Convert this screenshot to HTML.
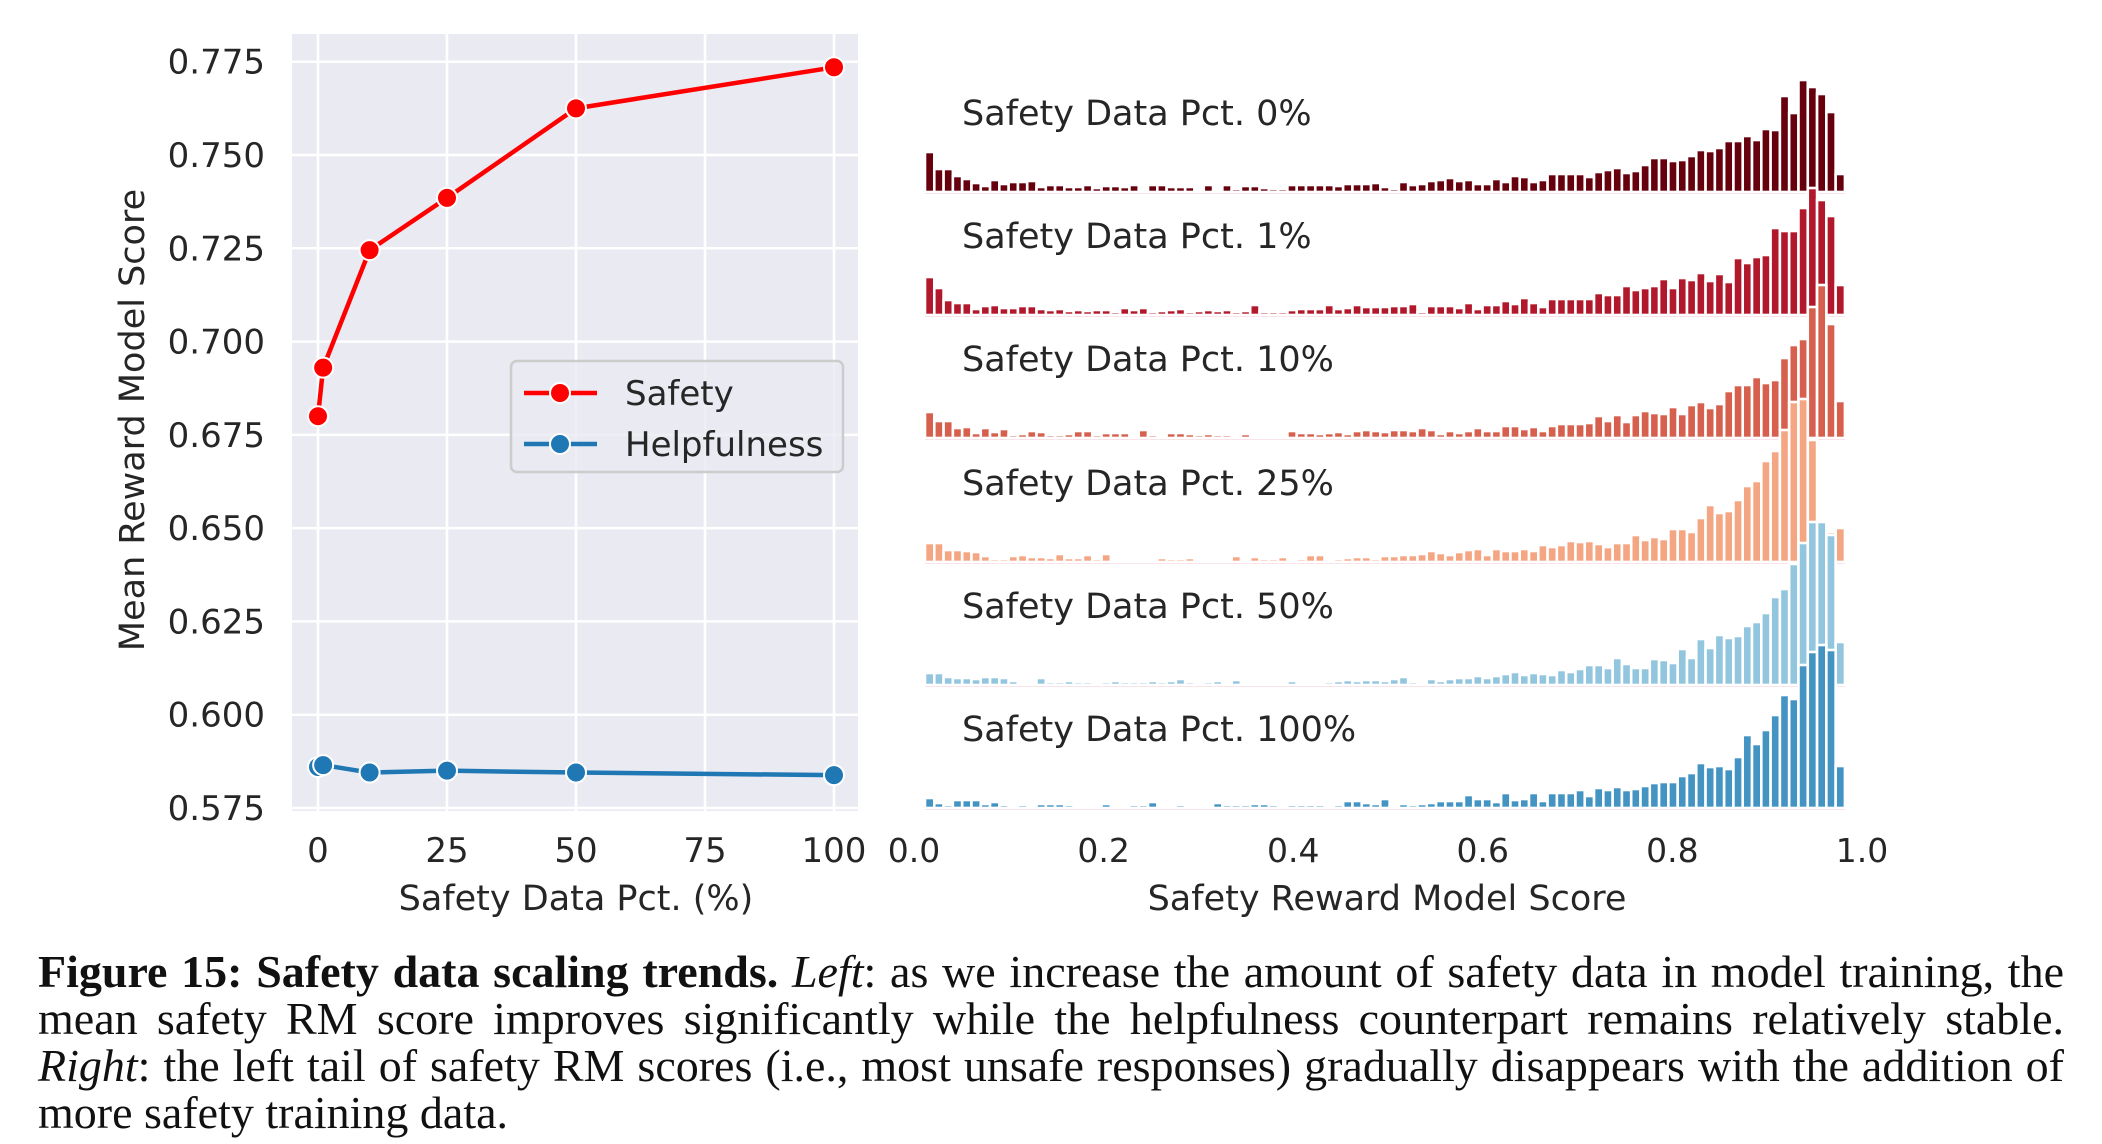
<!DOCTYPE html>
<html><head><meta charset="utf-8"><style>
html,body{margin:0;padding:0;background:#fff;}
#wrap{position:relative;width:2102px;height:1144px;overflow:hidden;}
svg text{font-family:"DejaVu Sans","Liberation Sans",sans-serif;fill:#262626;}
.cap{position:absolute;left:38px;width:2026px;font-family:"Liberation Serif",serif;font-size:46px;color:#111;white-space:nowrap;text-align:justify;text-align-last:justify;line-height:47px;}
.cap.last{text-align-last:left;}
</style></head><body>
<div id="wrap">
<svg id="chart" width="2102" height="940" viewBox="0 0 2102 940" style="position:absolute;left:0;top:0"></svg>
<div class="cap" style="top:948px"><b>Figure 15: Safety data scaling trends.</b> <i>Left</i>: as we increase the amount of safety data in model training, the</div>
<div class="cap" style="top:995px">mean safety RM score improves significantly while the helpfulness counterpart remains relatively stable.</div>
<div class="cap" style="top:1042px"><i>Right</i>: the left tail of safety RM scores (i.e., most unsafe responses) gradually disappears with the addition of</div>
<div class="cap last" style="top:1089px">more safety training data.</div>
</div>
<script>
// ---- Left chart data ----
const pctValues = [0, 1, 10, 25, 50, 100];
const safetyScores = [0.680, 0.693, 0.7245, 0.7385, 0.7625, 0.7735];
const helpfulScores = [0.586, 0.5865, 0.5845, 0.585, 0.5845, 0.5838];
const leftYTicks = [0.575, 0.600, 0.625, 0.650, 0.675, 0.700, 0.725, 0.750, 0.775];
const leftXTicks = [0, 25, 50, 75, 100];
// ---- Right chart data ----
const rowLabels = ["Safety Data Pct. 0%","Safety Data Pct. 1%","Safety Data Pct. 10%","Safety Data Pct. 25%","Safety Data Pct. 50%","Safety Data Pct. 100%"];
const hist0 = [40,23,23,16,13,9,6,12,8,10,10,11,5,7,7,5,5,7,4,6,6,5,7,2,7,7,5,5,5,2,7,0.5,7,3,6,6,4,3,3,7,7,7,7,7,6,8,8,8,9,5,3,10,7,8,11,12,14,11,12,8,8,13,10,16,15,10,12,18,18,18,18,15,20,22,24,19,21,27,34,34,31,32,36,42,41,44,51,51,56,52,63,62,96,79,112,105,98,80,18];
const hist1 = [38,27,15,12,12,6,9,10,7,7,9,9,6,5,6,4,5,4,5,5,3,7,5,7,3,4,5,6,3,4,5,4,5,3,4,10,3,3,3,5,6,6,6,10,6,7,10,8,8,8,9,9,11,3,9,9,9,7,12,6,10,10,14,11,17,12,8,16,16,16,16,16,22,20,20,29,25,27,29,36,27,37,35,42,34,41,33,57,52,58,60,87,84,84,107,127,115,99,30];
const hist2 = [26,17,17,10,11,5,10,6,9,3,4,7,6,3,3,4,7,7,3,5,5,5,1,8,3,2,5,5,4,3,4,3,3,2,4,1,1,2,2,7,5,5,4,5,6,4,7,8,7,6,8,8,7,10,8,4,7,5,7,10,7,7,12,12,9,11,7,12,14,14,14,15,22,17,23,16,23,27,25,24,31,24,33,36,30,34,47,53,53,61,55,58,80,93,99,131,153,114,37];
const hist3 = [19,19,12,12,11,10,6,3,3,6,7,5,5,4,8,4,4,7,3,8,1,2,1,0.5,2,4,3,3,4,2,1,2,1,6,1,5,3,3,5,2,3,7,7,2,3,4,5,5,3,6,6,7,7,8,11,9,7,10,12,13,7,13,11,11,13,11,17,15,17,21,20,21,18,15,19,19,27,22,25,23,33,33,30,44,57,49,51,62,76,81,101,111,132,160,163,122,34,30,34];
const hist4 = [12,12,8,7,7,6,8,8,7,4,2,2,7,3,3,4,3,3,0.5,3,4,3,3,3,4,3,4,6,3,1,3,4,2,5,2,0.5,1,2,2,4,2,2,2,3,4,5,4,5,5,4,6,8,3,2,6,4,6,7,7,9,7,9,11,13,10,12,11,10,15,13,16,20,20,17,27,21,17,17,26,25,22,36,27,46,37,50,47,49,59,63,72,88,96,121,142,163,163,150,43];
const hist5 = [10,5,3,8,8,8,4,6,3,2,3,2,4,4,4,3,1,1,2,4,0.5,1,3,3,6,1,2,3,2,1,2,5,3,3,3,4,4,3,2,3,3,3,3,2,3,7,7,5,4,9,2,4,3,4,5,7,7,7,13,9,9,6,15,8,9,15,7,15,15,15,18,12,20,18,21,18,19,22,25,26,26,32,35,45,41,42,39,51,73,64,78,93,113,109,143,156,163,158,42];
const histRows = [hist0, hist1, hist2, hist3, hist4, hist5];
const rowColors = ["#67000d","#b2182b","#d6604d","#f4a582","#92c5de","#4393c3"];
const rightXTicks = [0.0, 0.2, 0.4, 0.6, 0.8, 1.0];
const binStart = 0.0116, binEnd = 0.982;

const NS = "http://www.w3.org/2000/svg";
const svg = document.getElementById("chart");
function mk(tag, attrs, parent, text) {
  const e = document.createElementNS(NS, tag);
  for (const k in attrs) e.setAttribute(k, attrs[k]);
  if (text !== undefined) e.textContent = text;
  (parent || svg).appendChild(e);
  return e;
}

// ---------- LEFT ----------
const L = {x0: 292, x1: 858, y0: 34, y1: 811};
const lx = v => 318 + (v - 0) * (834 - 318) / 100;
const ly = v => 808 - (v - 0.575) * (808 - 61.7) / 0.2;
const gL = mk("g", {});


const bg = mk("rect", {x: L.x0, y: L.y0, width: L.x1 - L.x0, height: L.y1 - L.y0, fill: "#eaeaf2"}, gL);


leftYTicks.forEach(t => {
  const gl = mk("line", {x1: L.x0, x2: L.x1, y1: ly(t), y2: ly(t), stroke: "#fff", "stroke-width": 2.5}, gL);
  
  
  const tx = mk("text", {x: 265, y: ly(t) + 12, "text-anchor": "end", "font-size": 34}, gL, t.toFixed(3));
  
  
});
leftXTicks.forEach(t => {
  const gl = mk("line", {x1: lx(t), x2: lx(t), y1: L.y0, y2: L.y1, stroke: "#fff", "stroke-width": 2.5}, gL);
  
  
  const tx = mk("text", {x: lx(t), y: 862, "text-anchor": "middle", "font-size": 34}, gL, String(t));
  
  
});
const yl = mk("text", {x: 0, y: 0, "text-anchor": "middle", "font-size": 35, transform: "translate(144,420) rotate(-90)"}, gL, "Mean Reward Model Score");


const xl = mk("text", {x: 576, y: 910, "text-anchor": "middle", "font-size": 35}, gL, "Safety Data Pct. (%)");



function series(vals, color, name) {
  const pts = pctValues.map((p, i) => lx(p) + "," + ly(vals[i])).join(" ");
  const pl = mk("polyline", {points: pts, fill: "none", stroke: color, "stroke-width": 4.5, "stroke-linejoin": "round"}, gL);
  
  
  pctValues.forEach((p, i) => {
    const c = mk("circle", {cx: lx(p), cy: ly(vals[i]), r: 10, fill: color, stroke: "#fff", "stroke-width": 2}, gL);
    
    
  });
}
series(safetyScores, "#ff0000", "safety");
series(helpfulScores, "#1f77b4", "helpfulness");

// legend
const lg = mk("g", {}, gL);


mk("rect", {x: 511, y: 361, width: 332, height: 111, rx: 6, fill: "#eaeaf2", "fill-opacity": 0.8, stroke: "#cccccc", "stroke-width": 2.5}, lg);
[["Safety", "#ff0000", 393], ["Helpfulness", "#1f77b4", 444]].forEach(([lab, col, y]) => {
  const e = mk("g", {}, lg);
  
  
  mk("line", {x1: 524, x2: 597, y1: y, y2: y, stroke: col, "stroke-width": 4.5}, e);
  mk("circle", {cx: 560, cy: y, r: 10, fill: col, stroke: "#fff", "stroke-width": 2}, e);
  mk("text", {x: 625, y: y + 12, "font-size": 34}, e, lab);
});

// ---------- RIGHT ----------
const rx = v => 914 + v * 948;
const baselines = [192, 315, 438, 562, 685, 808];
const hScale = v => v * 1.0;
const gR = mk("g", {});


histRows.forEach((vals, r) => {
  const g = mk("g", {}, gR);
  
  
  const base = baselines[r];
  const bw = (binEnd - binStart) / vals.length;
  const bl = mk("line", {x1: rx(binStart), x2: rx(binEnd), y1: base + 1, y2: base + 1, stroke: "#f6d7de", "stroke-width": 2}, g);
  
  
  vals.forEach((v, i) => {
    const x0 = rx(binStart + i * bw), x1 = rx(binStart + (i + 1) * bw);
    const h = hScale(v);
    const b = mk("rect", {x: x0, y: base - h, width: x1 - x0, height: h, fill: rowColors[r], stroke: "#fff", "stroke-width": 2.6}, g);
    
    
  });
  const t = mk("text", {x: 962, y: base - 67, "font-size": 35}, g, rowLabels[r]);
  
  
});
rightXTicks.forEach(t => {
  const tx = mk("text", {x: rx(t), y: 862, "text-anchor": "middle", "font-size": 33}, gR, t.toFixed(1));
  
  
});
const rxl = mk("text", {x: 1387, y: 910, "text-anchor": "middle", "font-size": 35}, gR, "Safety Reward Model Score");


</script>
</body></html>
